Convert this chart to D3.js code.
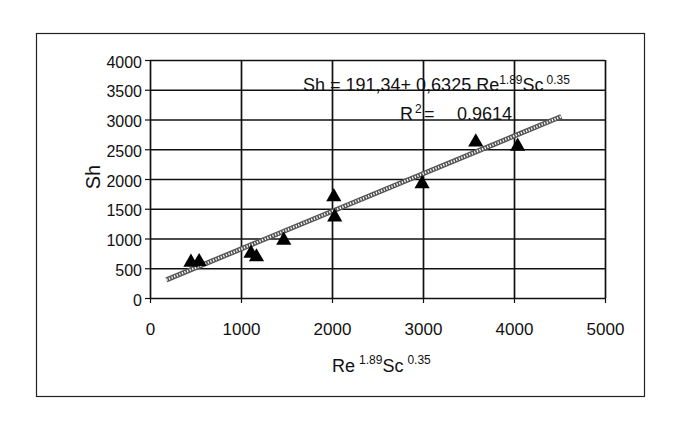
<!DOCTYPE html>
<html>
<head>
<meta charset="utf-8">
<script src="https://cdn.jsdelivr.net/npm/d3@7"></script>
<style>
  body { margin: 0; background: #fff; }
  svg { font-family: "Liberation Sans", Arial, sans-serif; }
  .grid line { stroke: #111; stroke-width: 1.7; }
  .grid .domain { display: none; }
  .ticks text { font-size: 17px; fill: #111; }
  .ticks line { stroke: #111; stroke-width: 1.2; }
  .ticks .domain { display: none; }
</style>
</head>
<body>
<svg width="675" height="423"></svg>
<script>
// values
const reSc = [450, 540, 1110, 1170, 1470, 2020, 2030, 2990, 3580, 4040];
const sh   = [600, 610, 750, 690, 970, 1700, 1360, 1920, 2620, 2550];
const xTicks = [0, 1000, 2000, 3000, 4000, 5000];
const yTicks = [0, 500, 1000, 1500, 2000, 2500, 3000, 3500, 4000];
// regression printed on the chart
const intercept = 191.34;
const slope = 0.6325;
const fitRange = [180, 4520];

function whenLoaded(){
    const svg = d3.select('svg');
    const width = +svg.attr('width');
    const height = +svg.attr('height');

    const margin = {top:60, right:70, bottom:125, left:150};
    const innerWidth = width - margin.left - margin.right;
    const innerHeight = height - margin.top - margin.bottom;

    // outer chart frame
    svg.append('rect')
        .attr('x', 36.5).attr('y', 33.5)
        .attr('width', 608).attr('height', 363)
        .attr('fill', 'none')
        .attr('stroke', '#222')
        .attr('stroke-width', 1.2);

    const xScale = d3.scaleLinear().domain([0, 5000]).range([0, innerWidth]);
    const yScale = d3.scaleLinear().domain([0, 4000]).range([innerHeight, 0]);

    const g = svg.append('g')
        .attr('transform', `translate(${margin.left},${margin.top})`);

    // gridlines
    g.append('g').attr('class', 'grid')
        .call(d3.axisLeft(yScale).tickValues(yTicks).tickSize(-innerWidth).tickFormat(''));
    g.append('g').attr('class', 'grid')
        .attr('transform', `translate(0,${innerHeight})`)
        .call(d3.axisBottom(xScale).tickValues(xTicks).tickSize(-innerHeight).tickFormat(''));

    // tick marks + labels
    const yAxisG = g.append('g').attr('class', 'ticks')
        .call(d3.axisLeft(yScale).tickValues(yTicks).tickSize(5).tickPadding(3).tickFormat(d3.format('d')));
    yAxisG.selectAll('text').attr('dy', '0.45em').style('font-size', '16px');
    g.append('g').attr('class', 'ticks')
        .attr('transform', `translate(0,${innerHeight})`)
        .call(d3.axisBottom(xScale).tickValues(xTicks).tickSize(5).tickPadding(20).tickFormat(d3.format('d')));

    // trend line (hatched look)
    const fit = fitRange.map(x => [x, intercept + slope * x]);
    const line = d3.line().x(d => xScale(d[0])).y(d => yScale(d[1]));
    g.append('path')
        .attr('d', line(fit))
        .attr('stroke', '#555')
        .attr('stroke-width', 5)
        .attr('fill', 'none');
    g.append('path')
        .attr('d', line(fit))
        .attr('stroke', '#fff')
        .attr('stroke-width', 2.4)
        .attr('stroke-dasharray', '1.2,1.6')
        .attr('fill', 'none');

    // markers
    const tri = d3.symbol().type(d3.symbolTriangle).size(100);
    g.selectAll('.pt').data(reSc)
        .enter().append('path')
        .attr('class', 'pt')
        .attr('d', tri)
        .attr('transform', (d, i) => `translate(${xScale(d)},${yScale(sh[i])})`)
        .attr('fill', '#000');

    // equation text
    const eq = svg.append('text')
        .attr('x', 303).attr('y', 91)
        .attr('font-size', 18).attr('fill', '#111');
    eq.append('tspan').text('Sh = 191,34+ 0,6325 Re');
    eq.append('tspan').attr('dy', -7).attr('font-size', 12).text('1.89');
    eq.append('tspan').attr('dy', 7).text('Sc');
    eq.append('tspan').attr('dy', -7).attr('dx', 3).attr('font-size', 12).text('0.35');

    const r2 = svg.append('text')
        .attr('x', 400).attr('y', 120)
        .attr('font-size', 18).attr('fill', '#111');
    r2.append('tspan').text('R');
    r2.append('tspan').attr('dy', -7).attr('dx', 2).attr('font-size', 12).text('2');
    r2.append('tspan').attr('dy', 7).attr('x', 424).text('=');
    r2.append('tspan').attr('x', 457).text('0.9614');

    // axis titles
    const xt = svg.append('text')
        .attr('x', 332).attr('y', 372)
        .attr('font-size', 18).attr('fill', '#111');
    xt.append('tspan').text('Re');
    xt.append('tspan').attr('dy', -8).attr('dx', 4).attr('font-size', 12).text('1.89');
    xt.append('tspan').attr('dy', 8).text('Sc');
    xt.append('tspan').attr('dy', -8).attr('dx', 4).attr('font-size', 12).text('0.35');

    svg.append('text')
        .attr('transform', 'translate(100,177) rotate(-90)')
        .attr('text-anchor', 'middle')
        .attr('font-size', 20).attr('fill', '#111')
        .text('Sh');
}

window.onload = whenLoaded;
</script>
</body>
</html>
